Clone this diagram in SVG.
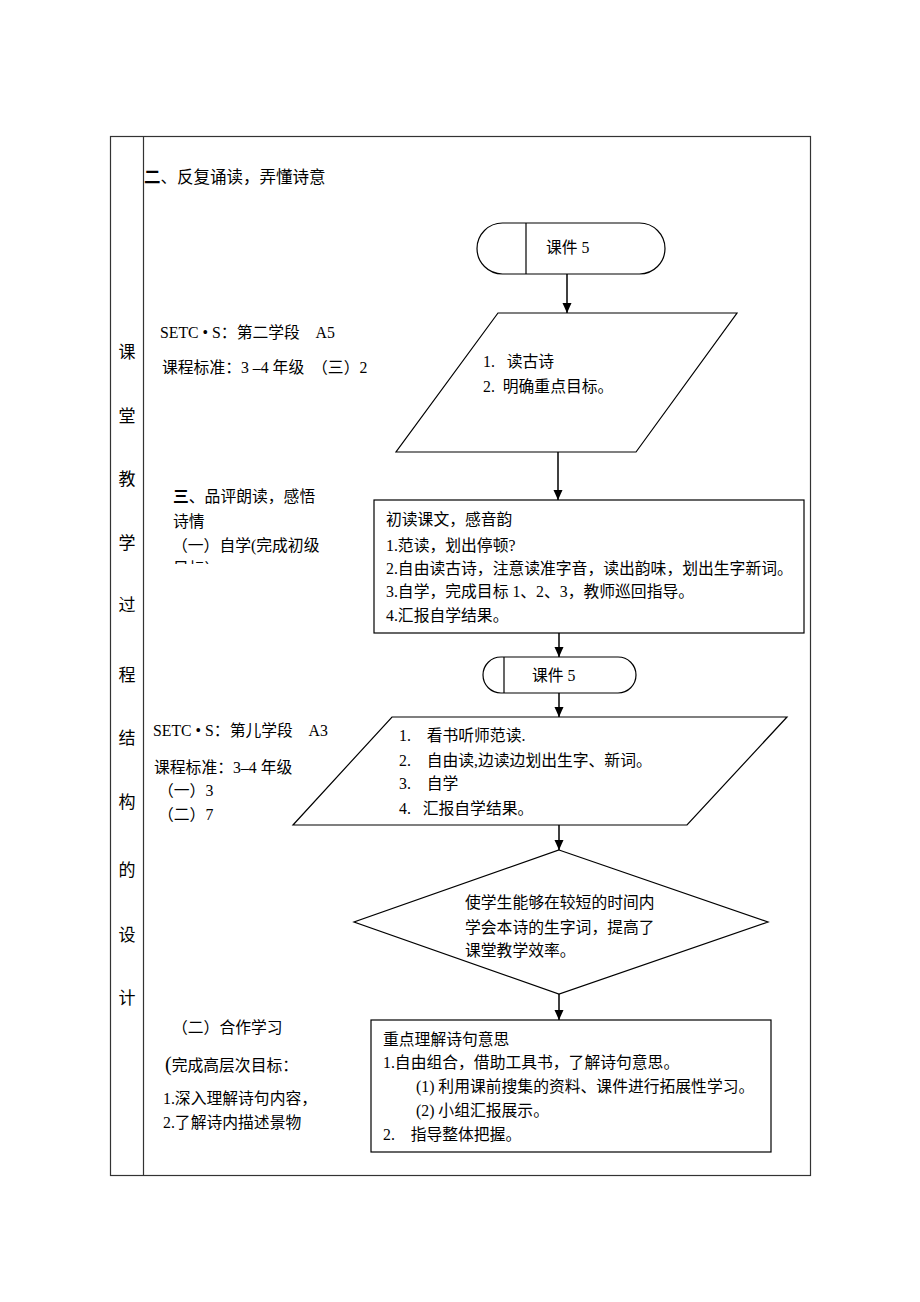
<svg xmlns="http://www.w3.org/2000/svg" width="920" height="1302" viewBox="0 0 920 1302">
<style>
text{font-family:"Liberation Serif","Noto Sans CJK SC",serif;font-size:15.8px;fill:#000;white-space:pre}
.t{font-size:16.5px}
.col{font-size:17px;text-anchor:middle}
.s{fill:#fff;stroke:#000;stroke-width:1.2}
.ln{stroke:#000;stroke-width:1.2;fill:none}
.c{stroke:#000;stroke-width:1.5;fill:none;marker-end:url(#ah)}
</style>
<defs>
<marker id="ah" viewBox="0 0 10 10" refX="10" refY="5" markerWidth="10" markerHeight="10" markerUnits="userSpaceOnUse" orient="auto">
<path d="M0,0.5 L10,5 L0,9.5 Z" fill="#000"/>
</marker>
<clipPath id="clipA"><rect x="150" y="550" width="220" height="14"/></clipPath>
</defs>
<rect width="920" height="1302" fill="#fff"/>
<g id="table">
<rect x="110.5" y="136.5" width="700" height="1039" fill="none" stroke="#333" stroke-width="1.2"/>
<line x1="143.5" y1="136.5" x2="143.5" y2="1175.5" stroke="#333" stroke-width="1.2"/>
<text class="col" x="127" y="358">课</text>
<text class="col" x="127" y="422">堂</text>
<text class="col" x="127" y="485">教</text>
<text class="col" x="127" y="549">学</text>
<text class="col" x="127" y="611">过</text>
<text class="col" x="127" y="681">程</text>
<text class="col" x="127" y="744">结</text>
<text class="col" x="127" y="808">构</text>
<text class="col" x="127" y="876">的</text>
<text class="col" x="127" y="941">设</text>
<text class="col" x="127" y="1004">计</text>
</g>
<g id="left-notes">
<text class="t" x="144" y="183"><tspan font-weight="bold">二</tspan>、反复诵读，弄懂诗意</text>
<text x="160" y="338">SETC • S：第二学段    A5</text>
<text x="162" y="373">课程标准：3 –4 年级  （三）2</text>
<text x="173" y="502"><tspan font-weight="bold">三</tspan>、品评朗读，感悟</text>
<text x="173" y="527">诗情</text>
<text x="172" y="551">（一）自学(完成初级</text>
<text x="173" y="574" clip-path="url(#clipA)">目标）</text>
<text x="153" y="736">SETC • S：第儿学段    A3</text>
<text x="154" y="773">课程标准：3–4 年级</text>
<text x="158" y="796">（一）3</text>
<text x="158" y="820">（二）7</text>
<text x="172" y="1033">（二）合作学习</text>
<text x="165" y="1071"><tspan font-size="20">(</tspan>完成高层次目标：</text>
<text x="163" y="1104">1.深入理解诗句内容，</text>
<text x="163" y="1128">2.了解诗内描述景物</text>
</g>
<g id="connectors">
<line class="c" x1="567" y1="274" x2="567" y2="313"/>
<line class="c" x1="558" y1="452" x2="558" y2="500"/>
<line class="c" x1="559" y1="633" x2="559" y2="657"/>
<line class="c" x1="559" y1="693" x2="559" y2="717"/>
<line class="c" x1="559" y1="825" x2="559" y2="850"/>
<line class="c" x1="559" y1="994" x2="559" y2="1020"/>
</g>
<g id="terminal1">
<rect class="s" x="477" y="223" width="188" height="51" rx="25.5" ry="25.5"/>
<line class="ln" x1="526" y1="223" x2="526" y2="274"/>
<text x="546" y="253">课件 5</text>
</g>
<g id="io1">
<polygon class="s" points="498,313 737,313 636,452 396,452"/>
<text x="483" y="367">1.   读古诗</text>
<text x="483" y="392">2.  明确重点目标。</text>
</g>
<g id="process1">
<rect class="s" x="374" y="500" width="430" height="133"/>
<text x="386" y="525">初读课文，感音韵</text>
<text x="386" y="551">1.范读，划出停顿?</text>
<text x="386" y="574">2.自由读古诗，注意读准字音，读出韵味，划出生字新词。</text>
<text x="386" y="597">3.自学，完成目标 1、2、3，教师巡回指导。</text>
<text x="386" y="621">4.汇报自学结果。</text>
</g>
<g id="terminal2">
<path class="s" d="M501,657 H618 A18,18 0 0 1 618,693 H501 A18,18 0 0 1 501,657 Z"/>
<line class="ln" x1="504" y1="657" x2="504" y2="693"/>
<text x="532" y="681">课件 5</text>
</g>
<g id="io2">
<polygon class="s" points="392,717 787,717 687,825 293,825"/>
<text x="399" y="741">1.    看书听师范读.</text>
<text x="399" y="766">2.    自由读,边读边划出生字、新词。</text>
<text x="399" y="789">3.    自学</text>
<text x="399" y="814">4.   汇报自学结果。</text>
</g>
<g id="decision">
<polygon class="s" points="559,850 768,922 559,994 354,922"/>
<text x="465" y="908">使学生能够在较短的时间内</text>
<text x="465" y="933">学会本诗的生字词，提高了</text>
<text x="465" y="956">课堂教学效率。</text>
</g>
<g id="process2">
<rect class="s" x="371" y="1020" width="400" height="132"/>
<text x="383" y="1045">重点理解诗句意思</text>
<text x="383" y="1068">1.自由组合，借助工具书，了解诗句意思。</text>
<text x="416" y="1092">(1) 利用课前搜集的资料、课件进行拓展性学习。</text>
<text x="416" y="1116">(2) 小组汇报展示。</text>
<text x="383" y="1140">2.    指导整体把握。</text>
</g>
</svg>
